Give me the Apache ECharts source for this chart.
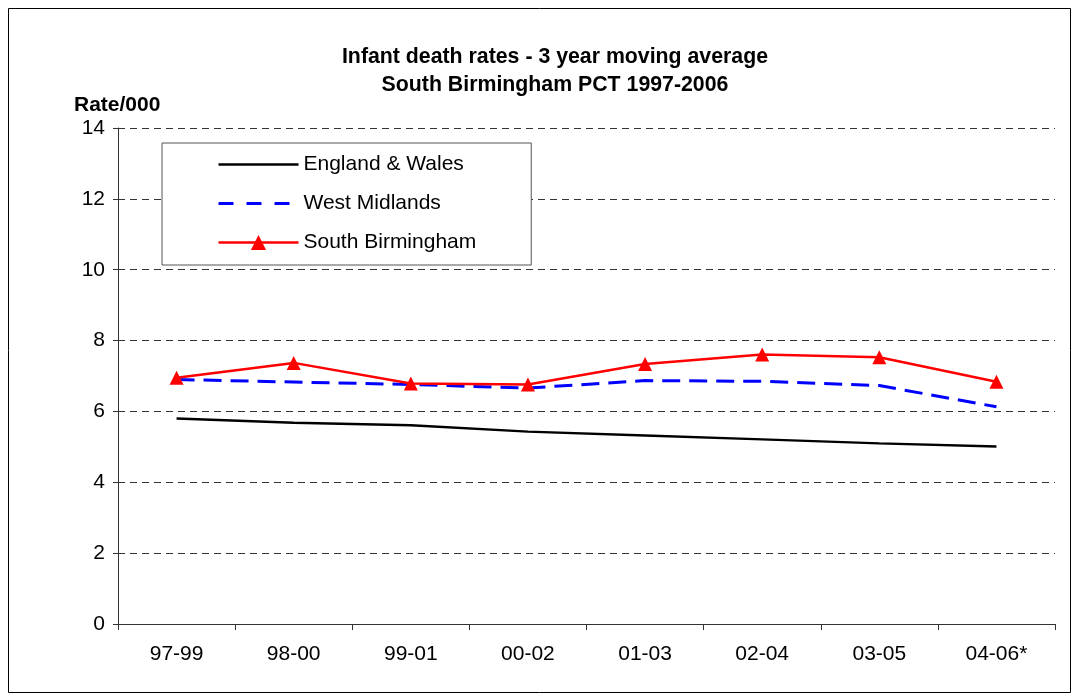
<!DOCTYPE html>
<html>
<head>
<meta charset="utf-8">
<script src="https://cdn.jsdelivr.net/npm/echarts@6/dist/echarts.min.js"></script>
<style>html,body{margin:0;padding:0;background:#fff;}#c{width:1078px;height:699px;}</style>
</head>
<body>
<div id="c"></div>
<script>
var categories = ['97-99','98-00','99-01','00-02','01-03','02-04','03-05','04-06*'];
var englandWales = [5.80,5.68,5.61,5.43,5.32,5.21,5.10,5.01];
var westMidlands = [6.90,6.83,6.76,6.66,6.87,6.85,6.73,6.13];
var southBirmingham = [6.95,7.37,6.79,6.76,7.34,7.61,7.53,6.84];
var yTicks = {min:0, max:14, interval:2};

var FONT = '"Liberation Sans", Arial, sans-serif';
var chart = echarts.init(document.getElementById('c'), null, {renderer:'canvas'});
chart.setOption({
  animation:false,
  backgroundColor:'#fff',
  textStyle:{fontFamily:FONT},
  title:[{
    text:'Infant death rates - 3 year moving average\nSouth Birmingham PCT 1997-2006',
    left:550, top:38, textAlign:'center',
    textStyle:{fontFamily:FONT, fontSize:21.3, fontWeight:'bold', color:'#000', lineHeight:28}
  },{
    text:'Rate/000', left:69, top:90,
    textStyle:{fontFamily:FONT, fontSize:21, fontWeight:'bold', color:'#000'}
  }],
  graphic:[{
    type:'rect', silent:true, z:-1,
    shape:{x:8.5, y:8.5, width:1062, height:684},
    style:{fill:'none', stroke:'#000', lineWidth:1}
  }],
  legend:{
    orient:'vertical', left:162, top:143,
    padding:[11,55,12,55], itemGap:18, itemWidth:80, itemHeight:19,
    backgroundColor:'#fff', borderColor:'#555', borderWidth:1, z:10,
    textStyle:{fontFamily:FONT, fontSize:21, color:'#000', lineHeight:21},
    data:[
      {name:'England & Wales', itemStyle:{color:'rgba(0,0,0,0)', borderWidth:0, opacity:0}, lineStyle:{width:2.5}},
      {name:'West Midlands', itemStyle:{color:'rgba(0,0,0,0)', borderWidth:0, opacity:0}, lineStyle:{width:3, type:[15,13]}},
      {name:'South Birmingham', lineStyle:{width:2.5}}
    ]
  },
  grid:{left:118, right:23, top:128, bottom:75, containLabel:false},
  xAxis:{
    type:'category', data:categories, boundaryGap:true,
    axisLine:{show:true, lineStyle:{color:'#333', width:1}},
    axisTick:{show:true, length:6, interval:0, lineStyle:{color:'#333'}},
    axisLabel:{fontFamily:FONT, fontSize:21, color:'#000', margin:20, interval:0},
    splitLine:{show:false}
  },
  yAxis:{
    type:'value', min:yTicks.min, max:yTicks.max, interval:yTicks.interval,
    axisLine:{show:true, lineStyle:{color:'#333', width:1}},
    axisTick:{show:true, length:5, lineStyle:{color:'#333'}},
    axisLabel:{fontFamily:FONT, fontSize:21, color:'#000', margin:13},
    splitLine:{show:true, lineStyle:{color:'#333', width:1, type:[7,5]}}
  },
  series:[{
    name:'England & Wales', type:'line', data:englandWales,
    symbol:'none', color:'#000',
    lineStyle:{color:'#000', width:2.3}
  },{
    name:'West Midlands', type:'line', data:westMidlands,
    symbol:'none', color:'#0000FF',
    lineStyle:{color:'#0000FF', width:3, type:[18,9]}
  },{
    name:'South Birmingham', type:'line', data:southBirmingham,
    symbol:'triangle', symbolSize:14, color:'#FF0000',
    itemStyle:{color:'#FF0000'},
    lineStyle:{color:'#FF0000', width:2.5}
  }]
});
</script>
</body>
</html>
